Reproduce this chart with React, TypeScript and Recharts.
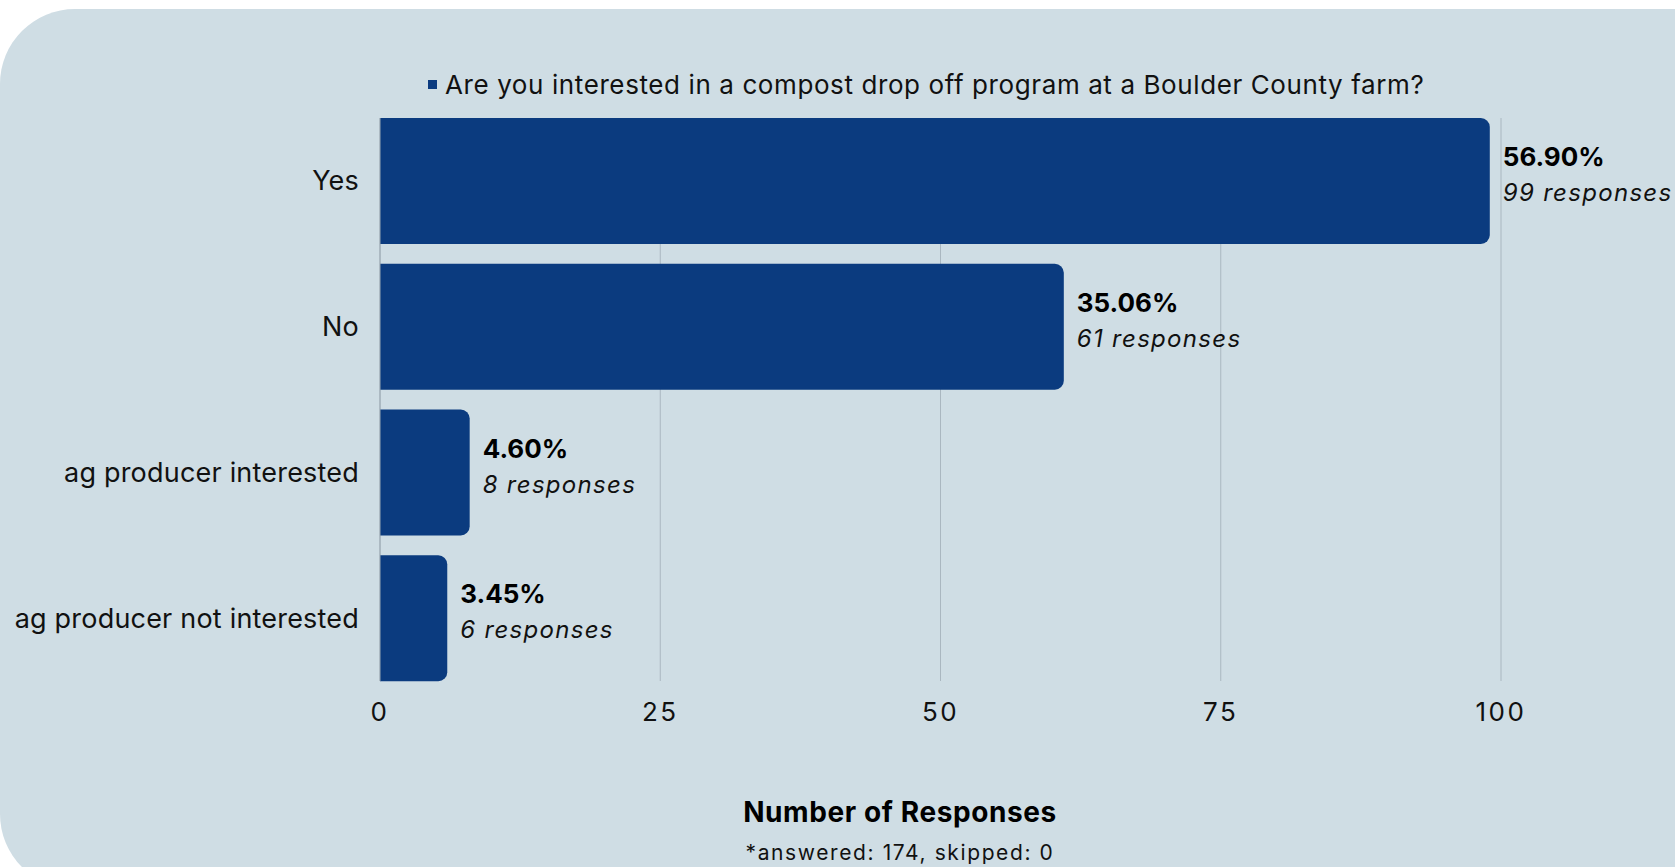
import React from 'react';
import { BarChart, Bar, XAxis, YAxis, CartesianGrid, LabelList } from 'recharts';

const categories = ['Yes', 'No', 'ag producer interested', 'ag producer not interested'];
const responses = [99, 61, 8, 6];
const percents = ['56.90%', '35.06%', '4.60%', '3.45%'];
const xTicks = [0, 25, 50, 75, 100];

const seriesName = 'Are you interested in a compost drop off program at a Boulder County farm?';
const axisTitle = 'Number of Responses';
const footnote = '*answered: 174, skipped: 0';

const data = categories.map((name, i) => ({ name, value: responses[i], pct: percents[i] }));

const FONT = 'Inter, "Noto Sans", sans-serif';
const BAR_COLOR = '#0b3b7f';
const BG = '#cfdde4';

const ValueLabel = (props: any) => {
    const { x, y, width, height, index } = props;
    const lx = x + width + 13;
    const cy = y + height / 2;
    return (
        <g>
            <text x={lx} y={cy - 15} fontFamily={FONT} fontSize={26} fontWeight={700} fill="#000">
                {percents[index]}
            </text>
            <text x={lx} y={cy + 20} fontFamily={FONT} fontSize={24} fontStyle="italic" fill="#111" style={{ letterSpacing: 1.3 }}>
                {responses[index]} responses
            </text>
        </g>
    );
};

const App: React.FC = () => {
    return (
        <div style={{ position: 'absolute', left: 0, top: 0, width: 1675, height: 867, background: '#fff', overflow: 'hidden', fontFamily: FONT }}>
            <div style={{ position: 'absolute', left: 0, top: 9, width: 1800, height: 880, background: BG, borderRadius: 75 }} />

            <div style={{ position: 'absolute', left: 428, top: 69, display: 'flex', alignItems: 'center', fontSize: 26, letterSpacing: 0.6, color: '#111', whiteSpace: 'nowrap' }}>
                <span style={{ display: 'inline-block', width: 9, height: 9, background: BAR_COLOR, marginRight: 8 }} />
                {seriesName}
            </div>

            <div style={{ position: 'absolute', left: 0, top: 0 }}>
                <BarChart
                    width={1675}
                    height={867}
                    data={data}
                    layout="vertical"
                    margin={{ top: 118, right: 174, bottom: 136, left: 20 }}
                    barCategoryGap={10}
                >
                    <CartesianGrid horizontal={false} stroke="#aab7c0" />
                    <XAxis
                        type="number"
                        domain={[0, 100]}
                        ticks={xTicks}
                        axisLine={false}
                        tickLine={false}
                        tickMargin={16}
                        height={50}
                        tick={{ fontFamily: FONT, fontSize: 26, fill: '#111', style: { letterSpacing: 2.5 } }}
                    />
                    <YAxis
                        type="category"
                        dataKey="name"
                        width={360}
                        padding={{ top: -10, bottom: -10 }}
                        tickLine={false}
                        tickSize={0}
                        tickMargin={21}
                        axisLine={{ stroke: '#9aa8b2' }}
                        tick={{ fontFamily: FONT, fontSize: 27, fill: '#111', style: { letterSpacing: 0.2 } }}
                    />
                    <Bar dataKey="value" fill={BAR_COLOR} radius={[0, 9, 9, 0]} isAnimationActive={false}>
                        <LabelList dataKey="value" content={ValueLabel} />
                    </Bar>
                </BarChart>
            </div>

            <div style={{ position: 'absolute', left: 600, width: 600, top: 795, textAlign: 'center', fontSize: 28, letterSpacing: 0.6, fontWeight: 700, color: '#000' }}>
                {axisTitle}
            </div>
            <div style={{ position: 'absolute', left: 600, width: 600, top: 840, textAlign: 'center', fontSize: 21, letterSpacing: 1.6, color: '#111' }}>
                {footnote}
            </div>
        </div>
    );
};

export default App;
